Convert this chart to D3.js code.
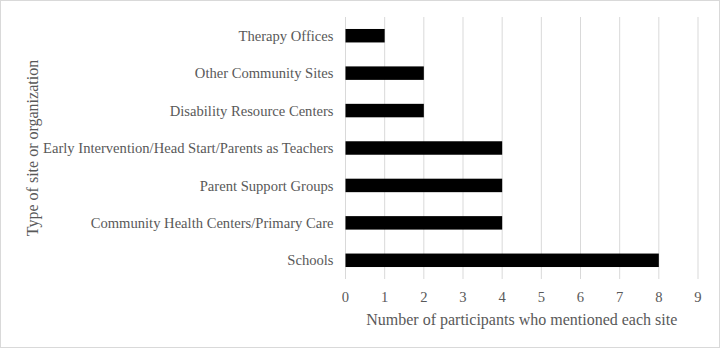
<!DOCTYPE html>
<html>
<head>
<meta charset="utf-8">
<script src="https://cdn.jsdelivr.net/npm/d3@7"></script>
<style>
  body { margin: 0; background: #fff; }
  text { font-family: "Liberation Serif", "Times New Roman", serif; fill: #595959; }
</style>
</head>
<body>
<svg id="chart" width="720" height="348"></svg>
<script>
const sites = [
  "Therapy Offices",
  "Other Community Sites",
  "Disability Resource Centers",
  "Early Intervention/Head Start/Parents as Teachers",
  "Parent Support Groups",
  "Community Health Centers/Primary Care",
  "Schools"
];
const mentions = [1, 2, 2, 4, 4, 4, 8];
const xTicks = [0, 1, 2, 3, 4, 5, 6, 7, 8, 9];

const svg = d3.select("#chart");
const margin = { top: 17, right: 22, bottom: 69, left: 345.5 };
const W = 720, H = 348;

svg.append("rect")
  .attr("x", 0.5).attr("y", 0.5)
  .attr("width", W - 1).attr("height", H - 1)
  .attr("fill", "#fff").attr("stroke", "#d9d9d9");

const x = d3.scaleLinear().domain([0, 9]).range([margin.left, W - margin.right]);
const y = d3.scaleBand().domain(sites).range([margin.top, H - margin.bottom]).paddingInner(0.64).paddingOuter(0.32);

// gridlines
svg.append("g")
  .selectAll("line")
  .data(xTicks)
  .join("line")
  .attr("x1", d => x(d)).attr("x2", d => x(d))
  .attr("y1", margin.top).attr("y2", H - margin.bottom)
  .attr("stroke", "#d9d9d9").attr("stroke-width", 1);

svg.append("g")
  .selectAll("rect")
  .data(sites)
  .join("rect")
  .attr("x", x(0))
  .attr("y", d => y(d))
  .attr("width", (d, i) => x(mentions[i]) - x(0))
  .attr("height", y.bandwidth())
  .attr("fill", "#000");

// category labels
svg.append("g")
  .selectAll("text")
  .data(sites)
  .join("text")
  .attr("x", x(0) - 12)
  .attr("y", d => y(d) + y.bandwidth() / 2)
  .attr("dy", "0.35em")
  .attr("text-anchor", "end")
  .attr("font-size", 14.6)
  .text(d => d);

// tick labels
svg.append("g")
  .selectAll("text")
  .data(xTicks)
  .join("text")
  .attr("x", d => x(d))
  .attr("y", H - margin.bottom + 18)
  .attr("dy", "0.35em")
  .attr("text-anchor", "middle")
  .attr("font-size", 14.6)
  .text(d => d);

svg.append("text")
  .attr("x", (x(0) + x(9)) / 2)
  .attr("y", 319)
  .attr("dy", "0.35em")
  .attr("text-anchor", "middle")
  .attr("font-size", 16)
  .text("Number of participants who mentioned each site");

svg.append("text")
  .attr("transform", `translate(32, ${(margin.top + H - margin.bottom) / 2}) rotate(-90)`)
  .attr("dy", "0.35em")
  .attr("text-anchor", "middle")
  .attr("font-size", 16)
  .text("Type of site or organization");
</script>
</body>
</html>
